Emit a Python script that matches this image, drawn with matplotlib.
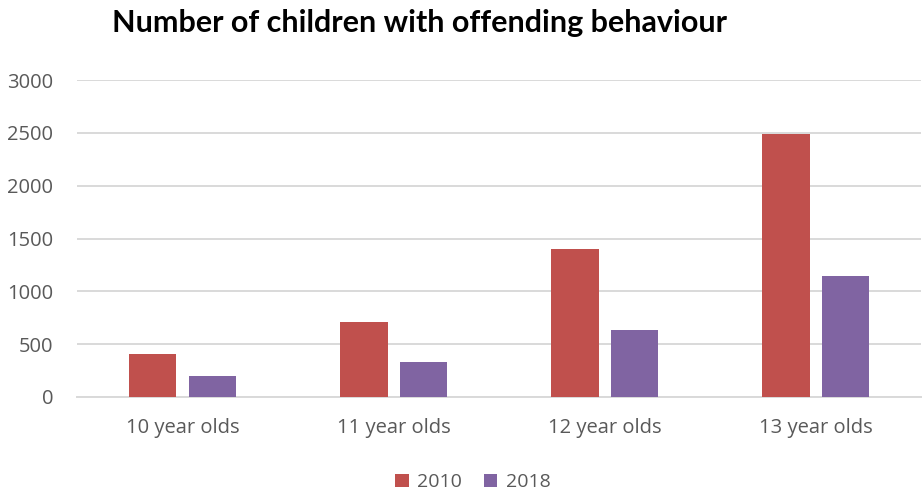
import numpy as np
import matplotlib.pyplot as plt

# Offending behaviour counts by age group
age_groups = ['10 year olds', '11 year olds', '12 year olds', '13 year olds']
counts_2010 = [410, 710, 1400, 2490]
counts_2018 = [200, 335, 630, 1150]
y_ticks = [0, 500, 1000, 1500, 2000, 2500, 3000]

red = '#C0504D'
purple = '#8064A2'

fig = plt.figure(figsize=(9.22, 4.95), dpi=100)
ax = fig.add_axes([0.0835, 0.198, 0.9155, 0.64])

x = np.arange(len(age_groups))
width = 0.227
offset = 0.142
ax.bar(x - offset, counts_2010, width, color=red, label='2010', zorder=3)
ax.bar(x + offset, counts_2018, width, color=purple, label='2018', zorder=3)

ax.set_xlim(-0.5, 3.5)
ax.set_ylim(0, 3000)
ax.set_yticks(y_ticks)
ax.set_xticks(x)
ax.set_xticklabels(age_groups)

ax.grid(axis='y', color='#D9D9D9', linewidth=1.4, zorder=0)
for side in ['top', 'right', 'left']:
    ax.spines[side].set_visible(False)
ax.spines['bottom'].set_color('#D9D9D9')
ax.spines['bottom'].set_linewidth(1.4)
ax.tick_params(length=0, labelsize=14.5, labelcolor='#595959')
ax.tick_params(axis='y', pad=17)
ax.tick_params(axis='x', pad=15)
for lbl in ax.get_xticklabels() + ax.get_yticklabels():
    lbl.set_fontfamily('Open Sans')

fig.text(0.121, 0.953, 'Number of children with offending behaviour',
         fontsize=22, fontweight='bold', family='Lato', color='black',
         va='center', ha='left')

leg = fig.legend(loc='center', bbox_to_anchor=(0.513, 0.026), ncol=2,
                 frameon=False, handlelength=0.7, handleheight=0.7,
                 handletextpad=0.45, columnspacing=1.1,
                 prop={'family': 'Open Sans', 'size': 14})
for t in leg.get_texts():
    t.set_color('#595959')

fig.savefig('out.png', dpi=100)
